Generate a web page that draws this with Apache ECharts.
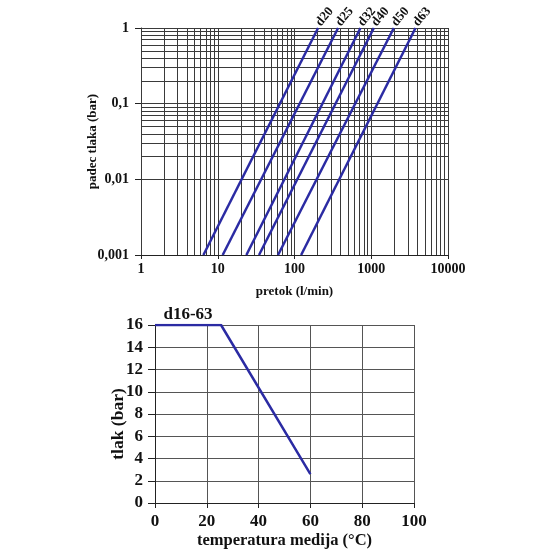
<!DOCTYPE html>
<html><head><meta charset="utf-8">
<script src="https://cdn.jsdelivr.net/npm/echarts@6/dist/echarts.min.js"></script>
<style>html,body{margin:0;padding:0;background:#fff}#c{width:550px;height:550px}</style>
</head><body><div id="c"></div>
<script>
// ---- data ----
const pipeNames = ['d20','d25','d32','d40','d50','d63'];
const flowAtLow  = [6.5, 11.6, 23.6, 34.5, 61, 122];     // l/min at 0,001 bar
const flowAtHigh = [203, 370, 723, 1080, 1968, 3775];    // l/min at 1 bar
const dropLow = 0.001, dropHigh = 1;
const xTickLabels = ['1','10','100','1000','10000'];
const yTickLabels = ['0,001','0,01','0,1','1'];
const tempValues = [0, 25.5, 60];
const pressureValues = [16, 16, 2.6];
const pressureLabel = 'd16-63';

// log grid values (1..9 x each decade)
const xGrid = [], yGrid = [];
for (let d = 0; d < 4; d++) for (let m = 1; m <= 9; m++) { xGrid.push(m * Math.pow(10, d)); }
xGrid.push(10000);
for (let d = -3; d < 0; d++) for (let m = 1; m <= 9; m++) { yGrid.push(+(m * Math.pow(10, d)).toPrecision(3)); }
yGrid.push(1);

const font = 'Liberation Serif';
const blue = '#2b2ba3';
const gridColor = '#3a3a3a';

const chart = echarts.init(document.getElementById('c'));
const series = [];
pipeNames.forEach((n, i) => {
  series.push({
    type: 'line', name: n, xAxisIndex: 0, yAxisIndex: 0,
    symbol: 'circle', symbolSize: 1, showSymbol: true,
    itemStyle: {color: 'rgba(0,0,0,0)'},
    data: [
      {value: [flowAtLow[i], dropLow], label: {show: false}},
      {value: [flowAtHigh[i], dropHigh], label: {
        show: true, formatter: n, position: 'top', distance: 3, rotate: 50,
        align: 'left', verticalAlign: 'middle',
        fontFamily: font, fontWeight: 'bold', fontSize: 13, color: '#111'
      }}],
    labelLayout: {hideOverlap: false},
    lineStyle: {color: blue, width: 2.5}, z: 5, silent: true, clip: false
  });
});
// grid lines for the log chart
series.push({
  type: 'line', xAxisIndex: 0, yAxisIndex: 0, data: [], silent: true,
  markLine: {
    symbol: 'none', silent: true, label: {show: false},
    lineStyle: {color: gridColor, width: 1, type: 'solid'},
    animation: false,
    data: xGrid.map(v => ({xAxis: v})).concat(yGrid.map(v => ({yAxis: v})))
  }
});
series.push({
  type: 'line', xAxisIndex: 1, yAxisIndex: 1,
  data: tempValues.map((t, i) => [t, pressureValues[i]]),
  symbol: 'none', lineStyle: {color: blue, width: 2.5}, silent: true, z: 5,
  markPoint: {
    symbol: 'circle', symbolSize: 0, silent: true,
    data: [{coord: [(tempValues[0] + tempValues[1]) / 2, pressureValues[0]]}],
    label: {show: true, formatter: pressureLabel, position: 'top', distance: 2,
      fontFamily: font, fontWeight: 'bold', fontSize: 17, color: '#111'}
  }
});

const axLabel = (size) => ({fontFamily: font, fontWeight: 'bold', fontSize: size, color: '#111'});
chart.setOption({
  animation: false,
  grid: [
    {left: 141, top: 28, width: 307, height: 227, outerBoundsMode: 'none', containLabel: false},
    {left: 155, top: 325, width: 259, height: 178, outerBoundsMode: 'none', containLabel: false}
  ],
  xAxis: [
    {type: 'log', logBase: 10, min: 1, max: 10000, gridIndex: 0,
     name: 'pretok (l/min)', nameLocation: 'middle', nameGap: 30,
     nameTextStyle: axLabel(13),
     axisLine: {show: true, lineStyle: {color: '#222', width: 1}},
     axisTick: {show: true, length: 4, lineStyle: {color: '#222'}},
     axisLabel: Object.assign(axLabel(14), {margin: 7, formatter: (v, i) => xTickLabels[i]}),
     splitLine: {show: false}, minorTick: {show: false}},
    {type: 'value', min: 0, max: 100, interval: 20, gridIndex: 1,
     name: 'temperatura medija (°C)', nameLocation: 'middle', nameGap: 29,
     nameTextStyle: axLabel(16.5),
     axisLine: {show: true, lineStyle: {color: '#222', width: 1}},
     axisTick: {show: true, length: 5, lineStyle: {color: '#222'}},
     axisLabel: Object.assign(axLabel(17), {margin: 10}),
     splitLine: {show: true, lineStyle: {color: '#555', width: 1}}}
  ],
  yAxis: [
    {type: 'log', logBase: 10, min: 0.001, max: 1, gridIndex: 0,
     name: 'padec tlaka (bar)', nameLocation: 'middle', nameGap: 42, nameRotate: 90,
     nameMoveOverlap: false,
     nameTextStyle: axLabel(13),
     axisLine: {show: true, lineStyle: {color: '#222', width: 1}},
     axisTick: {show: true, length: 6, lineStyle: {color: '#222'}},
     axisLabel: Object.assign(axLabel(14), {margin: 12, formatter: (v, i) => yTickLabels[i]}),
     splitLine: {show: false}, minorTick: {show: false}},
    {type: 'value', min: 0, max: 16, interval: 2, gridIndex: 1,
     name: 'tlak (bar)', nameLocation: 'middle', nameGap: 28, nameRotate: 90,
     nameMoveOverlap: false,
     nameTextStyle: Object.assign(axLabel(17.5), {padding: [0, 20, 0, 0]}),
     axisLine: {show: true, lineStyle: {color: '#222', width: 1}},
     axisTick: {show: true, length: 7, lineStyle: {color: '#222'}},
     axisLabel: Object.assign(axLabel(17), {margin: 12}),
     splitLine: {show: true, lineStyle: {color: '#555', width: 1}}}
  ],
  series: series
});
</script></body></html>
